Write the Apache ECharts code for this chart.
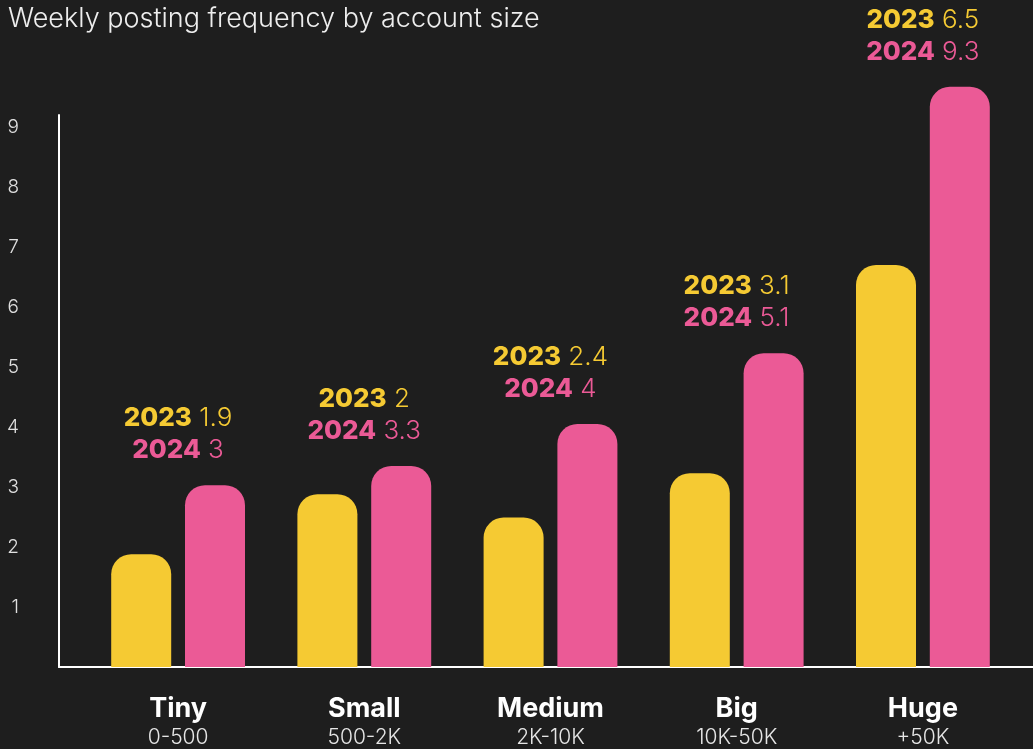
<!DOCTYPE html>
<html>
<head>
<meta charset="utf-8">
<script src="https://cdn.jsdelivr.net/npm/echarts@6/dist/echarts.min.js"></script>
<style>
  html, body { margin: 0; padding: 0; background: #1e1e1e; }
  #chart { width: 1033px; height: 749px; }
</style>
</head>
<body>
<div id="chart"></div>
<script>
const categories = ['Tiny', 'Small', 'Medium', 'Big', 'Huge']
const ranges = ['0-500', '500-2K', '2K-10K', '10K-50K', '+50K']
// bar heights as drawn
const bars2023 = [1.88, 2.88, 2.49, 3.23, 6.70]
const bars2024 = [3.03, 3.35, 4.05, 5.23, 9.67]
// values printed above each pair
const labels2023 = ['1.9', '2', '2.4', '3.1', '6.5']
const labels2024 = ['3', '3.3', '4', '5.1', '9.3']

const YELLOW = '#f5ca33'
const PINK = '#eb5a96'
const FONT = 'Inter'

const chart = echarts.init(document.getElementById('chart'))

chart.setOption({
  backgroundColor: '#1e1e1e',
  animation: false,
  title: {
    text: 'Weekly posting frequency by account size',
    left: 8,
    top: 4,
    padding: 0,
    textStyle: { color: '#eeeeee', fontFamily: FONT, fontWeight: 300, fontSize: 27, lineHeight: 30 },
  },
  grid: [
    { left: 85, right: 17, top: 67, bottom: 82 },
    { left: 59, right: 0, top: 115, bottom: 82 },
  ],
  xAxis: [
    {
      type: 'category',
      gridIndex: 0,
      data: categories,
      axisLine: { show: false },
      axisTick: { show: false },
      axisLabel: {
        margin: 27,
        formatter: (v, i) => `{n|${v}}\n{s|${ranges[i]}}`,
        rich: {
          n: { color: '#ffffff', fontFamily: FONT, fontWeight: 700, fontSize: 27, lineHeight: 30 },
          s: { color: '#e6e6e6', fontFamily: FONT, fontWeight: 300, fontSize: 21, lineHeight: 28 },
        },
      },
    },
    {
      type: 'value',
      gridIndex: 1,
      min: 0,
      max: 1,
      axisLine: { show: true, lineStyle: { color: '#ffffff', width: 2 } },
      axisTick: { show: false },
      axisLabel: { show: false },
      splitLine: { show: false },
    },
  ],
  yAxis: [
    { type: 'value', gridIndex: 0, min: 0, max: 10, show: false },
    {
      type: 'value',
      gridIndex: 1,
      min: 0,
      max: 9.2,
      interval: 1,
      axisLine: { show: true, lineStyle: { color: '#ffffff', width: 2 } },
      axisTick: { show: false },
      splitLine: { show: false },
      axisLabel: {
        margin: 40,
        color: '#e0e0e0',
        fontFamily: FONT,
        fontWeight: 300,
        fontSize: 19,
        formatter: (v) => (v > 0 && v % 1 === 0 ? String(v) : ''),
      },
    },
  ],
  series: [
    {
      name: '2023',
      type: 'bar',
      xAxisIndex: 0,
      yAxisIndex: 0,
      data: bars2023,
      barWidth: 60,
      barGap: '23%',
      itemStyle: { color: YELLOW, borderRadius: [20, 20, 0, 0] },
    },
    {
      name: '2024',
      type: 'bar',
      xAxisIndex: 0,
      yAxisIndex: 0,
      data: bars2024,
      barWidth: 60,
      barGap: '23%',
      clip: false,
      itemStyle: { color: PINK, borderRadius: [20, 20, 0, 0] },
      label: {
        show: true,
        position: 'top',
        distance: 19,
        offset: [-37, 0],
        align: 'center',
        fontSize: 26,
        fontFamily: FONT,
        lineHeight: 32,
        formatter: (p) =>
          `{y23|2023} {v23|${labels2023[p.dataIndex]}}\n{y24|2024} {v24|${labels2024[p.dataIndex]}}`,
        rich: {
          y23: { color: YELLOW, fontFamily: FONT, fontWeight: 800, fontSize: 26, lineHeight: 32 },
          v23: { color: YELLOW, fontFamily: FONT, fontWeight: 300, fontSize: 26, lineHeight: 32 },
          y24: { color: PINK, fontFamily: FONT, fontWeight: 800, fontSize: 26, lineHeight: 32 },
          v24: { color: PINK, fontFamily: FONT, fontWeight: 300, fontSize: 26, lineHeight: 32 },
        },
      },
    },
  ],
})
</script>
</body>
</html>
